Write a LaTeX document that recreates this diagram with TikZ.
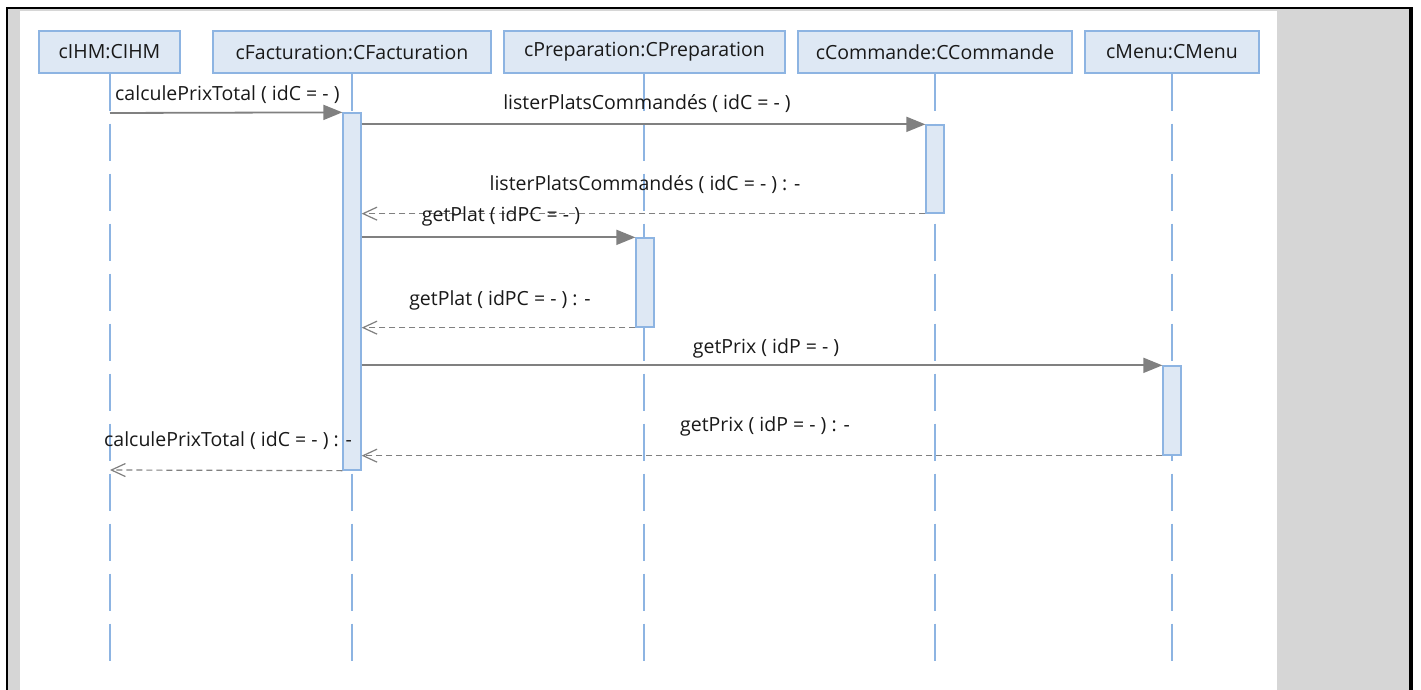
\documentclass[tikz,border=0pt]{standalone}
\usepackage{fontspec}
\setmainfont{Open Sans}
\usetikzlibrary{arrows.meta}
\definecolor{boxfill}{HTML}{DEE8F4}
\definecolor{boxline}{HTML}{8DB4E2}
\definecolor{msg}{HTML}{808080}
\definecolor{bggray}{HTML}{D6D6D6}
\tikzset{
  obj/.style={draw=boxline, fill=boxfill, line width=1.3pt, minimum height=42pt, inner sep=0pt, font=\fontsize{19.5}{22}\selectfont, text=black!90},
  lifeline/.style={draw=boxline, line width=1.3pt, dash pattern=on 37pt off 13pt},
  act/.style={draw=boxline, fill=boxfill, line width=1.3pt, minimum width=18pt, inner sep=0pt},
  call/.style={draw=msg, line width=1.8pt, -{Triangle[length=19pt,width=15pt,fill=msg]}},
  ret/.style={draw=msg, line width=1.2pt, dash pattern=on 6pt off 4pt, -{Straight Barb[length=14pt,width=13pt,line width=1.2pt]}},
  lbl/.style={font=\fontsize{19.5}{22}\selectfont, text=black!90, inner sep=0pt}
}
\begin{document}
\begin{tikzpicture}[x=1pt,y=-1pt]
\useasboundingbox (0,0) rectangle (1421,690);
% frame
\fill[white] (0,0) rectangle (1421,690);
\fill[bggray] (8,9) rectangle (1409,690);
\fill[white] (20,11) rectangle (1277,690);
\fill[black] (6,7) rectangle (1413,9);
\fill[black] (6,7) rectangle (8,690);
\fill[black] (1409,7) rectangle (1413,690);
% objects
\node[obj, minimum width=141pt] (ihm) at (109.5,52) {cIHM:CIHM};
\node[obj, minimum width=278pt] (fac) at (352,52) {cFacturation:CFacturation};
\node[obj, minimum width=281pt] (prep) at (644.5,52) {cPreparation:CPreparation};
\node[obj, minimum width=274pt] (com) at (935,52) {cCommande:CCommande};
\node[obj, minimum width=174pt] (menu) at (1172,52) {cMenu:CMenu};
% lifeline ends
\coordinate (ihmE) at (110,663);
\coordinate (facE) at (352,663);
\coordinate (prepE) at (644,663);
\coordinate (comE) at (935,663);
\coordinate (menuE) at (1172,663);
\draw[lifeline] (ihm.south -| ihmE) -- (ihmE);
\draw[lifeline] (fac.south -| facE) -- (facE);
\draw[lifeline] (prep.south -| prepE) -- (prepE);
\draw[lifeline] (com.south -| comE) -- (comE);
\draw[lifeline] (menu.south -| menuE) -- (menuE);
% activations
\node[act, minimum height=357pt] (aF) at (352,291.5) {};
\node[act, minimum height=88pt] (aC) at (935,169) {};
\node[act, minimum height=89pt] (aP) at (645,282.5) {};
\node[act, minimum height=89pt] (aM) at (1172,410.5) {};
% messages
\coordinate (s1) at (110,113);
\draw[call] (s1) -- (aF.north west);
\draw[call] (aF.east |- aC.north west) -- (aC.north west);
\draw[ret] (aC.south west) -- (aF.east |- aC.south west);
\draw[call] (aF.east |- aP.north west) -- (aP.north west);
\draw[ret] (aP.south west) -- (aF.east |- aP.south west);
\draw[call] (aF.east |- aM.north west) -- (aM.north west);
\draw[ret] (aM.south west) -- (aF.east |- aM.south west);
\coordinate (r8) at (110,470);
\draw[ret] (aF.south west) -- (r8);
% labels
\node[lbl, anchor=west] (l1) at (115,95) {calculePrixTotal ( idC = - )};
\node[lbl] (l2) at (647,104) {listerPlatsCommandés ( idC = - )};
\node[lbl] (l3) at (645,185) {listerPlatsCommandés ( idC = - ) : -};
\node[lbl] (l4) at (501,216) {getPlat ( idPC = - )};
\node[lbl] (l5) at (500,300) {getPlat ( idPC = - ) : -};
\node[lbl] (l6) at (766,348) {getPrix ( idP = - )};
\node[lbl] (l7) at (765,426) {getPrix ( idP = - ) : -};
\node[lbl] (l8) at (228,441) {calculePrixTotal ( idC = - ) : -};
\end{tikzpicture}
\end{document}
